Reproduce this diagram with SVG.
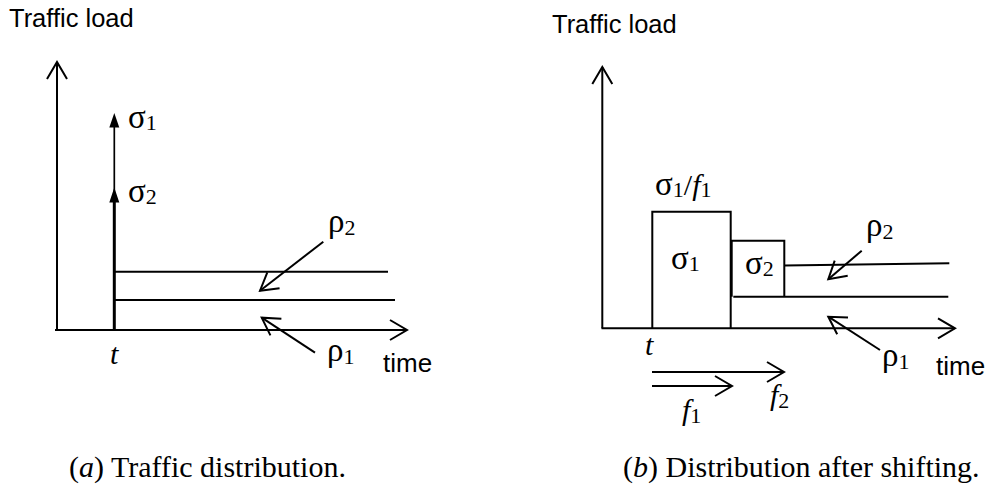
<svg xmlns="http://www.w3.org/2000/svg" width="1003" height="486" viewBox="0 0 1003 486">
<style>
.ln{fill:none;stroke:#000;stroke-width:2;}
.sans{font-family:"Liberation Sans",Arial,sans-serif;fill:#000;}
.ser{font-family:"Liberation Serif","Times New Roman",serif;fill:#000;font-size:30px;}
.gr{font-size:33px;}
.sub{font-size:22px;}
.it{font-style:italic;}
</style>
<defs>
<marker id="open" markerUnits="userSpaceOnUse" markerWidth="40" markerHeight="40" viewBox="-20 -20 40 40" refX="0" refY="0" orient="auto">
<path d="M-17,-10 L0,0 L-17,10" fill="none" stroke="#000" stroke-width="2"/>
</marker>
</defs>
<rect width="1003" height="486" fill="#fff"/>

<g id="panel-a">
  <g id="a-axes">
    <line class="ln" x1="57" y1="330" x2="57" y2="62" marker-end="url(#open)"/>
    <line class="ln" x1="55" y1="330" x2="407" y2="330" marker-end="url(#open)"/>
  </g>
  <g id="a-burst">
    <line x1="114.3" y1="330" x2="114.3" y2="200" stroke="#000" stroke-width="3"/>
    <line x1="114.3" y1="200" x2="114.3" y2="125" stroke="#000" stroke-width="1.7"/>
    <polygon points="114.3,113 109.3,127.5 119.3,127.5" fill="#000"/>
    <polygon points="114.3,187.5 109.3,202.5 119.3,202.5" fill="#000"/>
  </g>
  <g id="a-rates">
    <line class="ln" x1="114.3" y1="271.7" x2="388" y2="271.7"/>
    <line class="ln" x1="114.3" y1="300" x2="395" y2="300"/>
  </g>
  <g id="a-labels">
    <text class="sans" x="9" y="26.5" font-size="25.5">Traffic load</text>
    <text class="ser" x="128" y="128"><tspan class="gr">σ</tspan><tspan class="sub" dy="2">1</tspan></text>
    <text class="ser" x="128" y="202"><tspan class="gr">σ</tspan><tspan class="sub" dy="2">2</tspan></text>
    <text class="ser" x="328" y="232"><tspan class="gr">ρ</tspan><tspan class="sub" dy="3">2</tspan></text>
    <text class="ser" x="327" y="361"><tspan class="gr">ρ</tspan><tspan class="sub" dy="3">1</tspan></text>
    <text class="ser it" x="110" y="364">t</text>
    <text class="sans" x="383" y="372" font-size="26">time</text>
  </g>
</g>

<g id="panel-b">
  <g id="b-axes">
    <line class="ln" x1="602.3" y1="328.3" x2="602.3" y2="67" marker-end="url(#open)"/>
    <line class="ln" x1="601.5" y1="328.3" x2="955" y2="328.3" marker-end="url(#open)"/>
  </g>
  <g id="b-box1">
    <polyline class="ln" points="652.3,328.3 652.3,211.7 730.7,211.7 730.7,328.3"/>
    <text class="ser" x="671" y="269"><tspan class="gr">σ</tspan><tspan class="sub" dy="2">1</tspan></text>
  </g>
  <g id="b-box2">
    <polyline class="ln" points="731.7,296.7 731.7,240.7 784.3,240.7 784.3,296.7"/>
    <text class="ser" x="745" y="274"><tspan class="gr">σ</tspan><tspan class="sub" dy="2">2</tspan></text>
  </g>
  <g id="b-rates">
    <line class="ln" x1="784.3" y1="265.5" x2="949.3" y2="263.3"/>
    <line class="ln" x1="733.3" y1="296.7" x2="948.3" y2="296.7"/>
  </g>
  <g id="b-labels">
    <text class="sans" x="552" y="33" font-size="25.5">Traffic load</text>
    <text class="ser" x="655" y="195"><tspan class="gr">σ</tspan><tspan class="sub" dy="2">1</tspan><tspan dy="-2">/</tspan><tspan class="it">f</tspan><tspan class="sub" dy="2">1</tspan></text>
    <text class="ser" x="866" y="236"><tspan class="gr">ρ</tspan><tspan class="sub" dy="3">2</tspan></text>
    <text class="ser" x="882" y="366"><tspan class="gr">ρ</tspan><tspan class="sub" dy="3">1</tspan></text>
    <text class="ser it" x="645" y="355">t</text>
    <text class="sans" x="936" y="375" font-size="26">time</text>
    <text class="ser" x="770" y="405"><tspan class="it">f</tspan><tspan class="sub" dy="3">2</tspan></text>
    <text class="ser" x="682" y="420"><tspan class="it">f</tspan><tspan class="sub" dy="3">1</tspan></text>
  </g>
</g>

<g id="connectors">
  <line class="ln" x1="323.3" y1="241.7" x2="260" y2="290.7" marker-end="url(#open)"/>
  <line class="ln" x1="315" y1="352.7" x2="261.7" y2="317.7" marker-end="url(#open)"/>
  <line class="ln" x1="861.7" y1="250.7" x2="828.3" y2="279.3" marker-end="url(#open)"/>
  <line class="ln" x1="880" y1="350" x2="828.3" y2="316.7" marker-end="url(#open)"/>
  <line class="ln" x1="652" y1="372" x2="784" y2="372" marker-end="url(#open)"/>
  <line class="ln" x1="652" y1="386" x2="732" y2="386" marker-end="url(#open)"/>
</g>

<g id="captions">
  <text class="ser" x="69" y="477" font-size="31.5"><tspan>(</tspan><tspan class="it">a</tspan><tspan>) Traffic distribution.</tspan></text>
  <text class="ser" x="623" y="477" font-size="31.5"><tspan>(</tspan><tspan class="it">b</tspan><tspan>) Distribution after shifting.</tspan></text>
</g>
</svg>
